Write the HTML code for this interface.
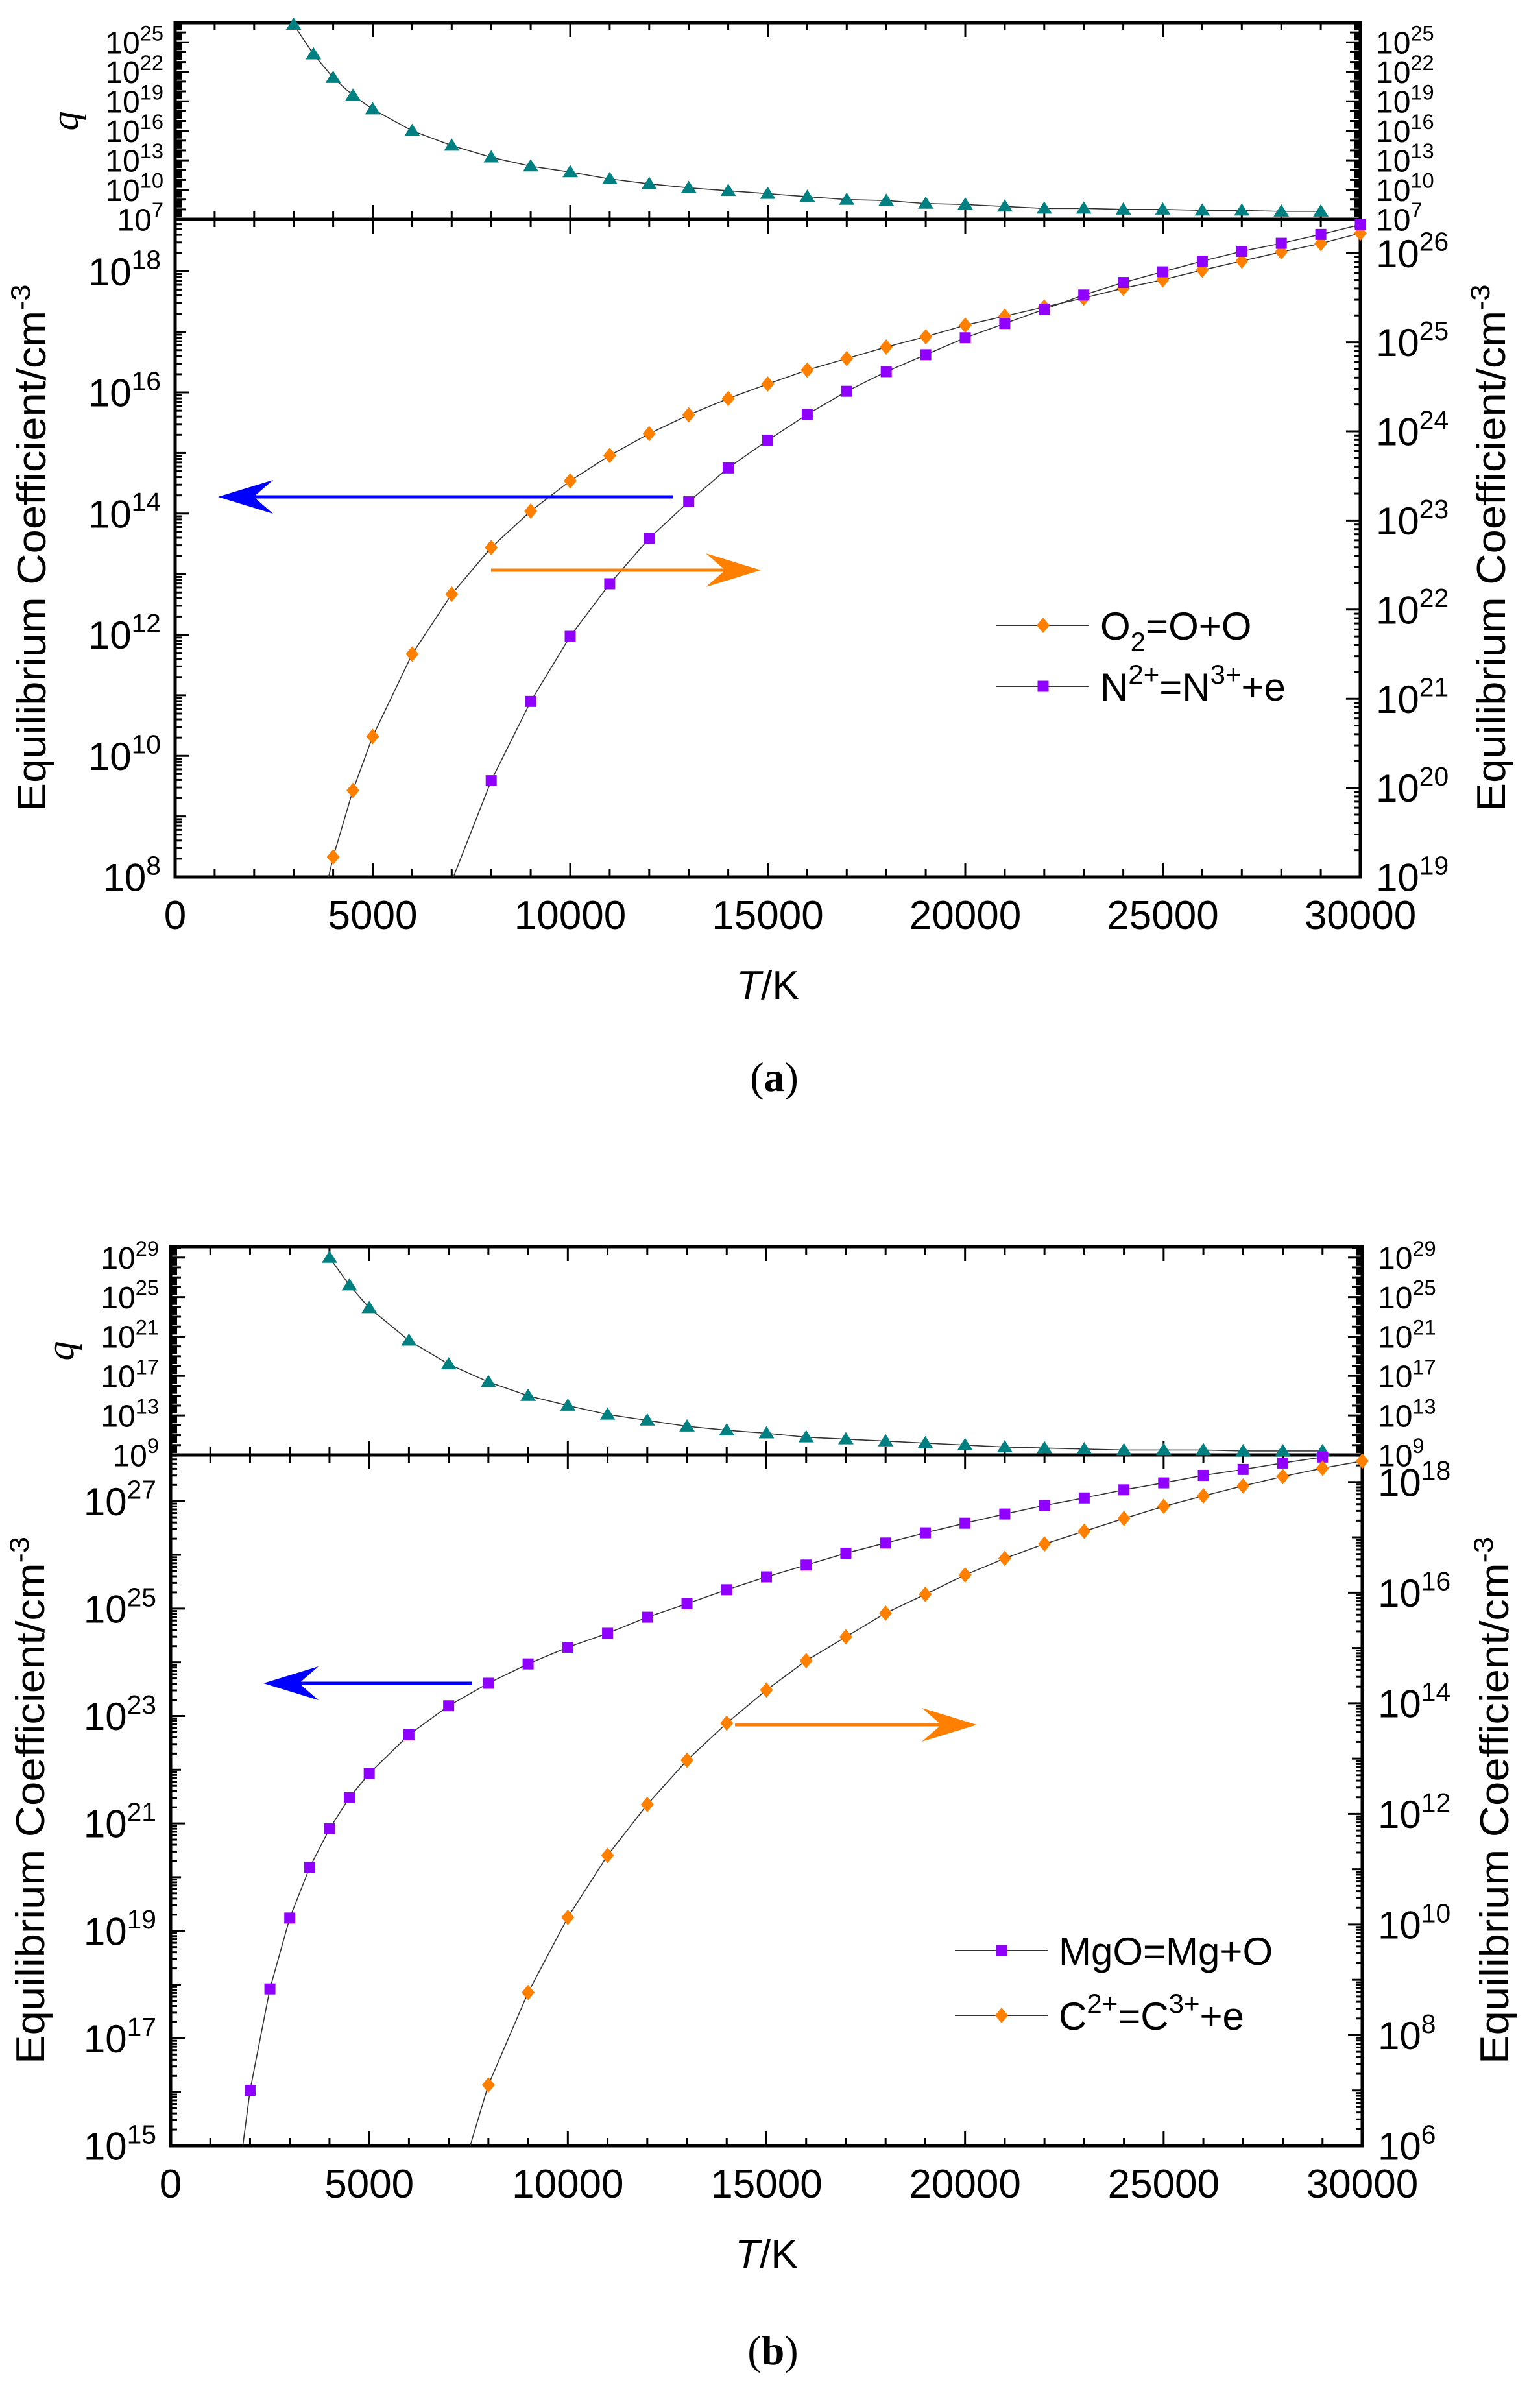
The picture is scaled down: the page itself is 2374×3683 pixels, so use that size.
<!DOCTYPE html>
<html><head><meta charset="utf-8">
<style>
html,body{margin:0;padding:0;background:#fff;}
svg{display:block;font-family:"Liberation Sans",Arial,sans-serif;}
</style></head>
<body>
<svg id="chart" width="2374" height="3683" viewBox="0 0 2374 3683" xmlns="http://www.w3.org/2000/svg"></svg>
<script>
// ---------- data: panel (a) ----------
const qTa = [3000,3500,4000,4500,5000,6000,7000,8000,9000,10000,11000,12000,13000,14000,15000,16000,17000,18000,19000,20000,21000,22000,23000,24000,25000,26000,27000,28000,29000];
const qLogA = [26.8,23.8,21.4,19.6,18.2,16.0,14.5,13.3,12.4,11.8,11.1,10.6,10.2,9.9,9.6,9.3,9.0,8.9,8.6,8.5,8.3,8.1,8.1,8.0,8.0,7.9,7.9,7.8,7.8];
const o2T = [4000,4500,5000,6000,7000,8000,9000,10000,11000,12000,13000,14000,15000,16000,17000,18000,19000,20000,21000,22000,23000,24000,25000,26000,27000,28000,29000,30000];
const o2Log = [8.33,9.43,10.32,11.68,12.67,13.44,14.04,14.54,14.96,15.32,15.63,15.90,16.14,16.37,16.56,16.75,16.92,17.11,17.26,17.41,17.56,17.72,17.86,18.02,18.17,18.32,18.46,18.63];
const n2T = [8000,9000,10000,11000,12000,13000,14000,15000,16000,17000,18000,19000,20000,21000,22000,23000,24000,25000,26000,27000,28000,29000,30000];
const n2Log = [20.08,20.97,21.70,22.29,22.80,23.21,23.59,23.90,24.19,24.45,24.67,24.86,25.05,25.21,25.37,25.53,25.67,25.79,25.91,26.02,26.11,26.21,26.32];
// ---------- data: panel (b) ----------
const qTb = [4000,4500,5000,6000,7000,8000,9000,10000,11000,12000,13000,14000,15000,16000,17000,18000,19000,20000,21000,22000,23000,24000,25000,26000,27000,28000,29000];
const qLogB = [29.0,26.2,23.9,20.6,18.2,16.4,15.0,14.0,13.1,12.5,11.9,11.5,11.2,10.8,10.6,10.4,10.2,10.0,9.8,9.7,9.6,9.5,9.5,9.5,9.4,9.4,9.4];
const mgT = [2000,2500,3000,3500,4000,4500,5000,6000,7000,8000,9000,10000,11000,12000,13000,14000,15000,16000,17000,18000,19000,20000,21000,22000,23000,24000,25000,26000,27000,28000,29000];
const mgLog = [16.03,17.92,19.24,20.18,20.90,21.48,21.93,22.65,23.19,23.61,23.97,24.28,24.54,24.84,25.09,25.35,25.59,25.81,26.03,26.22,26.41,26.59,26.76,26.92,27.06,27.21,27.34,27.48,27.59,27.71,27.82];
const c2T = [8000,9000,10000,11000,12000,13000,14000,15000,16000,17000,18000,19000,20000,21000,22000,23000,24000,25000,26000,27000,28000,29000,30000];
const c2Log = [7.10,8.77,10.13,11.25,12.17,12.97,13.64,14.24,14.77,15.20,15.63,15.97,16.32,16.62,16.88,17.11,17.34,17.56,17.75,17.93,18.10,18.25,18.38];
const xTickLabels = ["0","5000","10000","15000","20000","25000","30000"];
const qTicksA = [7,10,13,16,19,22,25];
const qTicksB = [9,13,17,21,25,29];
const leftTicksA = [8,10,12,14,16,18];
const rightTicksA = [19,20,21,22,23,24,25,26];
const leftTicksB = [15,17,19,21,23,25,27];
const rightTicksB = [6,8,10,12,14,16,18];

const NS = "http://www.w3.org/2000/svg";
const svg = document.getElementById("chart");
function mk(tag, attrs, parent){
  const e = document.createElementNS(NS, tag);
  for (const k in attrs) e.setAttribute(k, attrs[k]);
  (parent||svg).appendChild(e);
  return e;
}
const ORANGE="#ff8000", PURPLE="#8f00ff", TEAL="#008080";

function powLabel(g, x, y, exp, anchor, size, name){
  const t = mk("text",{x:x,y:y,"font-size":size,"text-anchor":anchor,fill:"#000"},g);
  
  
  const a = document.createElementNS(NS,"tspan"); a.textContent="10"; t.appendChild(a);
  const b = document.createElementNS(NS,"tspan"); b.setAttribute("dy", -size*0.42); b.setAttribute("font-size", size*0.68); b.textContent=String(exp); t.appendChild(b);
  return t;
}

function marker(g, kind, x, y, color){
  let m;
  if (kind==="tri") m = mk("polygon",{points:`${x},${y-11} ${x-12},${y+8} ${x+12},${y+8}`,fill:color},g);
  else if (kind==="dia") m = mk("polygon",{points:`${x},${y-12} ${x+10},${y} ${x},${y+12} ${x-10},${y}`,fill:color},g);
  else m = mk("rect",{x:x-8.5,y:y-8.5,width:17,height:17,fill:color},g);
  
  
}

function series(g, T, L, sx, sy, kind, color, name, ext){
  const sg = mk("g",{},g);
  
  
  let pts = T.map((t,i)=>[sx(t), sy(L[i])]);
  if (ext) pts = [ext].concat(pts);
  mk("polyline",{points:pts.map(p=>p.join(",")).join(" "),fill:"none",stroke:"#333",
    "stroke-width":1.6,"clip-path":`url(#${g.dataset.clip})`},sg);
  T.forEach((t,i)=>{ const y=sy(L[i]); marker(sg,kind,sx(t),y,color); });
}

function panel(c){
  const g = mk("g",{});
  
  
  const clipId = c.name+"-clip";
  g.dataset.clip = clipId;
  const cp = mk("clipPath",{id:clipId},g);
  mk("rect",{x:c.L,y:c.qTop,width:c.R-c.L,height:c.B-c.qTop},cp);
  const sx = t => c.L + (t/30000)*(c.R-c.L);
  const sq = v => c.mid - (v-c.qMin)/(c.qMax-c.qMin)*(c.mid-c.qTop);
  const sl = v => c.B - (v-c.lMin)/(c.lMax-c.lMin)*(c.B-c.mid);
  const sr = v => c.B - (v-c.rMin)/(c.rMax-c.rMin)*(c.B-c.mid);
  const tg = mk("g",{stroke:"#000","stroke-width":3},g);
   
  for (let t=1000;t<30000;t+=1000){
    const maj = t%5000===0, len = maj?22:12, x=sx(t);
    mk("line",{x1:x,y1:c.B,x2:x,y2:c.B-len},tg);
    mk("line",{x1:x,y1:c.mid,x2:x,y2:c.mid-len},tg);
    mk("line",{x1:x,y1:c.mid,x2:x,y2:c.mid+len},tg);
    mk("line",{x1:x,y1:c.qTop,x2:x,y2:c.qTop+len},tg);
  }
  function yTicks(scale,min,max,side,labels,size,isQ,nameBase){
    const xa = side==="L"?c.L:c.R, dir = side==="L"?1:-1;
    for (let d=Math.floor(min); d<=Math.ceil(max); d++){
      for (let k=1;k<10;k++){
        const v = d+Math.log10(k);
        if (v<min-0.001||v>max+0.001) continue;
        const y=scale(v);
        const len = k===1?(labels.includes(d)?22:16):10;
        mk("line",{x1:xa,y1:y,x2:xa+dir*len,y2:y},tg);
      }
    }
    labels.forEach(d=>{
      const y=scale(d);
      if (side==="L") powLabel(g, isQ?c.L-18:c.L-22, y+size*0.36, d, "end", size, nameBase+"-label");
      else powLabel(g, c.R+24, y+size*0.36, d, "start", size, nameBase+"-label");
    });
  }
  yTicks(sq,c.qMin,c.qMax,"L",c.qTicks,48,true,"q-left-tick");
  yTicks(sq,c.qMin,c.qMax,"R",c.qTicks,48,true,"q-right-tick");
  yTicks(sl,c.lMin,c.lMax,"L",c.lTicks,60,false,"left-y-tick");
  yTicks(sr,c.rMin,c.rMax,"R",c.rTicks,60,false,"right-y-tick");
  const fr = mk("rect",{x:c.L,y:c.qTop,width:c.R-c.L,height:c.B-c.qTop,fill:"none",stroke:"#000","stroke-width":5},g);
   
  mk("line",{x1:c.L,y1:c.mid,x2:c.R,y2:c.mid,stroke:"#000","stroke-width":5},g);
  xTickLabels.forEach((s,i)=>{
    const t = mk("text",{x:sx(i*5000),y:c.B+80,"font-size":62,"text-anchor":"middle"},g);
    t.textContent=s;
     
  });
  const xt = mk("text",{x:(c.L+c.R)/2,y:c.B+188,"font-size":62,"text-anchor":"middle"},g);
  xt.innerHTML='<tspan font-style="italic">T</tspan>/K';
   
  const qt = mk("text",{x:0,y:0,"font-size":60,"font-style":"italic","font-family":"Liberation Serif, serif","text-anchor":"middle",transform:`translate(${c.L-150},${(c.qTop+c.mid)/2}) rotate(-90)`},g);
  qt.textContent="q";
   
  const ly=(c.mid+c.B)/2;
  const lt = mk("text",{x:0,y:0,"font-size":62,"text-anchor":"middle",transform:`translate(${c.lTitleX},${ly}) rotate(-90) scale(1.08,1)`},g);
  lt.innerHTML='Equilibrium Coefficient/cm<tspan dy="-24" font-size="42">-3</tspan>';
   
  const rt = mk("text",{x:0,y:0,"font-size":62,"text-anchor":"middle",transform:`translate(${c.rTitleX},${ly}) rotate(-90) scale(1.08,1)`},g);
  rt.innerHTML='Equilibrium Coefficient/cm<tspan dy="-24" font-size="42">-3</tspan>';
   
  const pl = mk("text",{x:(c.L+c.R)/2+10,y:c.panelY,"font-size":64,"font-family":"Liberation Serif, serif","text-anchor":"middle"},g);
  pl.innerHTML='(<tspan font-weight="bold">'+c.tag+'</tspan>)';
   
  return {g,sx,sq,sl,sr};
}

function arrow(g, x1, x2, y, color, name){
  const a = mk("g",{},g);
   
  const dir = x2<x1?-1:1;
  mk("line",{x1:x1,y1:y,x2:x2-dir*40,y2:y,stroke:color,"stroke-width":5},a);
  mk("polygon",{points:`${x2},${y} ${x2-dir*85},${y-26} ${x2-dir*55},${y} ${x2-dir*85},${y+26}`,fill:color},a);
}

function legend(g, x0, entries){
  entries.forEach(e=>{
    const lg = mk("g",{},g);
     
    mk("line",{x1:x0,y1:e.y,x2:x0+143,y2:e.y,stroke:"#333","stroke-width":2},lg);
    marker(lg,e.kind,x0+72,e.y,e.color);
    const t = mk("text",{x:x0+160,y:e.y+22,"font-size":60},lg);
    t.innerHTML = e.html;
  });
}

const A = {name:"panel-a",tag:"a",L:270,R:2097,qTop:35,mid:338,B:1352,qMin:7,qMax:27,lMin:8,lMax:18.86,rMin:19,rMax:26.38,
  qTicks:qTicksA,lTicks:leftTicksA,rTicks:rightTicksA,lTitleX:70,rTitleX:2320,panelY:1682};
const pa = panel(A);
series(pa.g,qTa,qLogA,pa.sx,pa.sq,"tri",TEAL,"q-series-a",[pa.sx(2900),pa.sq(28)]);
series(pa.g,o2T,o2Log,pa.sx,pa.sl,"dia",ORANGE,"o2-series",[pa.sx(3850),pa.sl(7.9)]);
series(pa.g,n2T,n2Log,pa.sx,pa.sr,"sq",PURPLE,"n2-series",[pa.sx(7000),pa.sr(18.95)]);
arrow(pa.g,1037,336,766,"#0000ff","left-axis-arrow");
arrow(pa.g,757,1173,879,ORANGE,"right-axis-arrow");
legend(pa.g,1536,[
  {y:964,kind:"dia",color:ORANGE,html:'O<tspan dy="18" font-size="42">2</tspan><tspan dy="-18">=O+O</tspan>'},
  {y:1058,kind:"sq",color:PURPLE,html:'N<tspan dy="-26" font-size="42">2+</tspan><tspan dy="26">=N</tspan><tspan dy="-26" font-size="42">3+</tspan><tspan dy="26">+e</tspan>'}
]);

const Bc = {name:"panel-b",tag:"b",L:263,R:2100,qTop:1922,mid:2243,B:3308,qMin:9,qMax:30.1,lMin:15,lMax:27.86,rMin:6,rMax:18.49,
  qTicks:qTicksB,lTicks:leftTicksB,rTicks:rightTicksB,lTitleX:68,rTitleX:2325,panelY:3645};
const pb = panel(Bc);
series(pb.g,qTb,qLogB,pb.sx,pb.sq,"tri",TEAL,"q-series-b",null);
series(pb.g,mgT,mgLog,pb.sx,pb.sl,"sq",PURPLE,"mgo-series",[pb.sx(1800),pb.sl(14.9)]);
series(pb.g,c2T,c2Log,pb.sx,pb.sr,"dia",ORANGE,"c2-series",[pb.sx(7500),pb.sr(5.9)]);
arrow(pb.g,727,406,2595,"#0000ff","left-axis-arrow");
arrow(pb.g,1133,1506,2659,ORANGE,"right-axis-arrow");
legend(pb.g,1472,[
  {y:3007,kind:"sq",color:PURPLE,html:'MgO=Mg+O'},
  {y:3107,kind:"dia",color:ORANGE,html:'C<tspan dy="-26" font-size="42">2+</tspan><tspan dy="26">=C</tspan><tspan dy="-26" font-size="42">3+</tspan><tspan dy="26">+e</tspan>'}
]);
</script>
</body></html>
